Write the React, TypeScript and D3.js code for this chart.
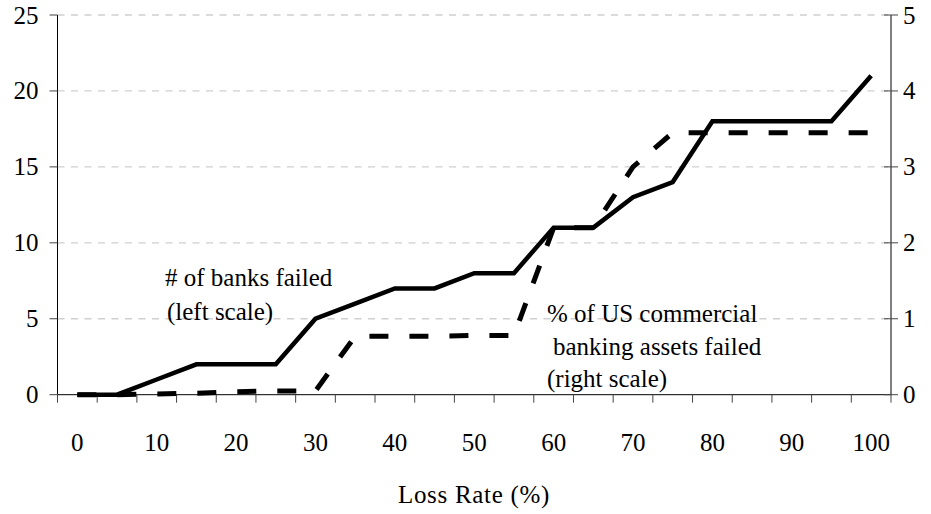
import React from 'react'
import * as d3 from 'd3'

const lossRates = [0, 5, 10, 15, 20, 25, 30, 35, 40, 45, 50, 55, 60, 65, 70, 75, 80, 85, 90, 95, 100]
const banksFailed = [0, 0, 1, 2, 2, 2, 5, 6, 7, 7, 8, 8, 11, 11, 13, 14, 18, 18, 18, 18, 21]
const assetsFailed = [0, 0, 0.01, 0.02, 0.04, 0.05, 0.05, 0.77, 0.77, 0.77, 0.78, 0.78, 2.2, 2.2, 3.0, 3.45, 3.45, 3.45, 3.45, 3.45, 3.45]
const leftTicks = [0, 5, 10, 15, 20, 25]
const rightTicks = [0, 1, 2, 3, 4, 5]
const xLabels = [0, 10, 20, 30, 40, 50, 60, 70, 80, 90, 100]

const App = () => {
  const width = 931
  const height = 514
  const left = 57.5
  const right = 891
  const top = 15
  const bottom = 394.7

  const x = d3.scaleBand<number>().domain(lossRates).range([left, right]).padding(0)
  const yLeft = d3.scaleLinear().domain([0, 25]).range([bottom, top])
  const yRight = d3.scaleLinear().domain([0, 5]).range([bottom, top])
  const cx = (d: number) => (x(d) as number) + x.bandwidth() / 2

  const banksLine = d3
    .line<number>()
    .x((d, i) => cx(lossRates[i]))
    .y((d) => yLeft(d))
  const assetsLine = d3
    .line<number>()
    .x((d, i) => cx(lossRates[i]))
    .y((d) => yRight(d))

  const boundaries = [...lossRates.map((d) => x(d) as number), right]
  const txt = { fontFamily: 'Liberation Serif', fontSize: 25 }

  return (
    <svg
      width={width}
      height={height}
      style={{ position: 'absolute', left: 0, top: 0, background: '#fff' }}
    >
      {/* gridlines */}
      <g stroke="#d0d0d0" strokeWidth={1.3} strokeDasharray="7 6.5">
        {leftTicks.slice(1).map((t) => (
          <line key={t} x1={left} x2={right} y1={yLeft(t)} y2={yLeft(t)} />
        ))}
      </g>

      {/* axes */}
      <g stroke="#000" strokeWidth={1}>
        <line x1={left} x2={left} y1={top} y2={bottom} />
        <line x1={right} x2={right} y1={top} y2={bottom} />
        <line x1={left} x2={right} y1={bottom} y2={bottom} />
      </g>
      <g stroke="#444" strokeWidth={1}>
        {leftTicks.map((t) => (
          <line key={t} x1={left - 8} x2={left} y1={yLeft(t)} y2={yLeft(t)} />
        ))}
        {rightTicks.map((t) => (
          <line key={t} x1={right - 7} x2={right + 7} y1={yRight(t)} y2={yRight(t)} />
        ))}
        {boundaries.map((b, i) => (
          <line key={i} x1={b} x2={b} y1={bottom} y2={bottom + 8} />
        ))}
      </g>

      {/* tick labels */}
      <g fill="#000">
        {leftTicks.map((t) => (
          <text key={t} x={left - 19} y={yLeft(t)} dy="0.34em" textAnchor="end" style={txt}>
            {t}
          </text>
        ))}
        {rightTicks.map((t) => (
          <text key={t} x={right + 12} y={yRight(t)} dy="0.34em" style={txt}>
            {t}
          </text>
        ))}
        {xLabels.map((t) => (
          <text key={t} x={cx(t)} y={442} dy="0.34em" textAnchor="middle" style={txt}>
            {t}
          </text>
        ))}
        <text
          x={474}
          y={494}
          dy="0.34em"
          textAnchor="middle"
          style={{ ...txt, letterSpacing: 0.7 }}
        >
          Loss Rate (%)
        </text>
      </g>

      {/* series */}
      <path
        d={assetsLine(assetsFailed) || ''}
        fill="none"
        stroke="#000"
        strokeWidth={5}
        strokeDasharray="19 21"
      />
      <path
        d={banksLine(banksFailed) || ''}
        fill="none"
        stroke="#000"
        strokeWidth={4.5}
        strokeLinejoin="miter"
      />

      {/* annotations */}
      <g fill="#000">
        <text x={165} y={277} dy="0.34em" style={txt}>
          # of banks failed
        </text>
        <text x={167} y={311} dy="0.34em" style={txt}>
          (left scale)
        </text>
        <text x={547} y={313} dy="0.34em" style={txt}>
          % of US commercial
        </text>
        <text x={553} y={346} dy="0.34em" style={txt}>
          banking assets failed
        </text>
        <text x={547} y={378} dy="0.34em" style={txt}>
          (right scale)
        </text>
      </g>
    </svg>
  )
}

export default App
